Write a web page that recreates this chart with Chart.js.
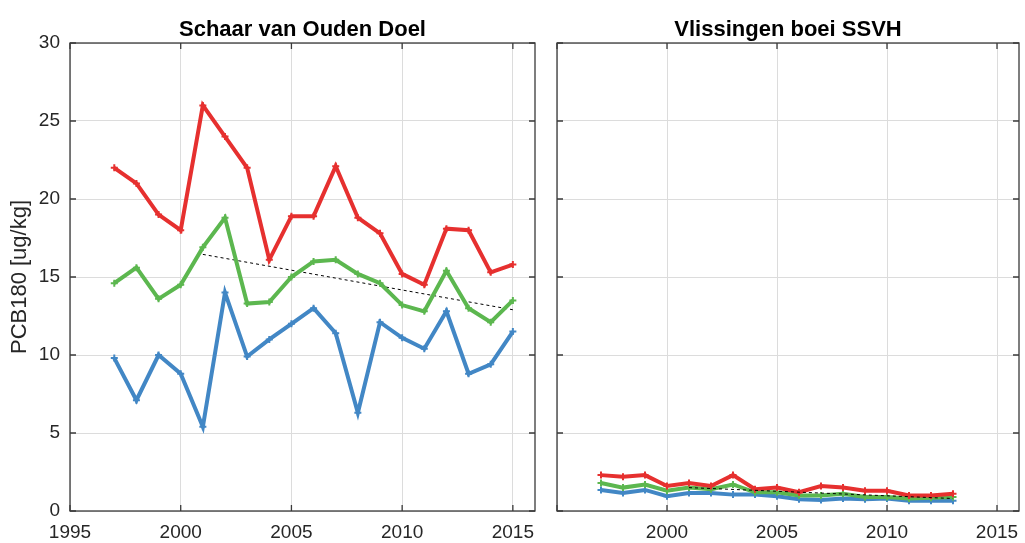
<!DOCTYPE html>
<html>
<head>
<meta charset="utf-8">
<script src="https://cdn.jsdelivr.net/npm/chart.js@4"></script>
<style>
  html, body { margin: 0; padding: 0; background: #fff; }
  #wrap { position: relative; width: 1025px; height: 543px; }
  #wrap canvas { position: absolute; top: 0; }
</style>
</head>
<body>
<div id="wrap">
  <canvas id="doel" width="545" height="543" style="left:0"></canvas>
  <canvas id="ssvh" width="480" height="543" style="left:545px"></canvas>
</div>
<script>
// PCB180 in sediment, two stations
const yearsDoel = [1997, 1998, 1999, 2000, 2001, 2002, 2003, 2004, 2005, 2006, 2007, 2008, 2009, 2010, 2011, 2012, 2013, 2014, 2015];
const doelHigh = [22, 21, 19, 18, 26, 24, 22, 16.1, 18.9, 18.9, 22.1, 18.8, 17.8, 15.2, 14.5, 18.1, 18.0, 15.3, 15.8];
const doelMid  = [14.6, 15.6, 13.6, 14.5, 16.9, 18.8, 13.3, 13.4, 15.0, 16.0, 16.1, 15.2, 14.6, 13.2, 12.8, 15.4, 13.0, 12.1, 13.5];
const doelLow  = [9.8, 7.1, 10.0, 8.8, 5.4, 14.0, 9.9, 11.0, 12.0, 13.0, 11.4, 6.3, 12.1, 11.1, 10.4, 12.8, 8.8, 9.4, 11.5];
const doelTrendYears = [2001, 2015];
const doelTrend = [16.45, 12.9];

const yearsSsvh = [1997, 1998, 1999, 2000, 2001, 2002, 2003, 2004, 2005, 2006, 2007, 2008, 2009, 2010, 2011, 2012, 2013];
const ssvhHigh = [2.3, 2.2, 2.3, 1.6, 1.8, 1.6, 2.3, 1.4, 1.5, 1.2, 1.6, 1.5, 1.3, 1.3, 1.0, 1.0, 1.1];
const ssvhMid  = [1.8, 1.5, 1.7, 1.3, 1.5, 1.4, 1.7, 1.2, 1.2, 1.0, 1.0, 1.1, 0.9, 0.9, 0.8, 0.85, 0.9];
const ssvhLow  = [1.35, 1.15, 1.35, 0.95, 1.15, 1.15, 1.05, 1.05, 0.95, 0.75, 0.7, 0.8, 0.75, 0.8, 0.65, 0.65, 0.65];
const ssvhTrendYears = [2001, 2013];
const ssvhTrend = [1.5, 0.8];

const xTicks = [1995, 2000, 2005, 2010, 2015];
const yTicks = [0, 5, 10, 15, 20, 25, 30];

const RED = '#e6302f', GREEN = '#5cb74f', BLUE = '#4287c5';
const FONT = '"Liberation Sans", Arial, Helvetica, sans-serif';

const pts = (xs, ys) => xs.map((x, i) => ({ x: x, y: ys[i] }));

function series(xs, ys, color) {
  return {
    data: pts(xs, ys),
    borderColor: color,
    backgroundColor: color,
    borderWidth: 4,
    pointStyle: 'cross',
    pointRadius: 3.5,
    pointBorderWidth: 2,
    pointBorderColor: color,
    tension: 0
  };
}

function trend(xs, ys) {
  return {
    data: pts(xs, ys),
    borderColor: '#000',
    borderWidth: 1,
    borderDash: [3, 3],
    pointRadius: 0,
    tension: 0
  };
}

// box, inward tick marks and panel title
const frame = {
  id: 'frame',
  afterDraw(chart, args, opts) {
    const { ctx, chartArea: a, scales: { x, y } } = chart;
    const len = 6;
    ctx.save();
    ctx.strokeStyle = '#3a3a3a';
    ctx.lineWidth = 1.3;
    ctx.beginPath();
    x.ticks.forEach(t => {
      const px = x.getPixelForValue(t.value);
      ctx.moveTo(px, a.bottom); ctx.lineTo(px, a.bottom - len);
      ctx.moveTo(px, a.top); ctx.lineTo(px, a.top + len);
    });
    y.ticks.forEach(t => {
      const py = y.getPixelForValue(t.value);
      ctx.moveTo(a.left, py); ctx.lineTo(a.left + len, py);
      ctx.moveTo(a.right, py); ctx.lineTo(a.right - len, py);
    });
    ctx.stroke();
    ctx.strokeRect(a.left, a.top, a.right - a.left, a.bottom - a.top);
    ctx.fillStyle = '#000';
    ctx.font = 'bold 22px ' + FONT;
    ctx.textAlign = 'center';
    ctx.textBaseline = 'alphabetic';
    ctx.fillText(opts.text, (a.left + a.right) / 2, 36);
    ctx.restore();
  }
};

function makeChart(id, datasets, title, showY, yWidth, padRight) {
  return new Chart(document.getElementById(id), {
    type: 'line',
    data: { datasets: datasets },
    plugins: [frame],
    options: {
      responsive: false,
      animation: false,
      layout: { padding: { top: 43, right: padRight, bottom: 0, left: 0 } },
      plugins: {
        legend: { display: false },
        tooltip: { enabled: false },
        frame: { text: title }
      },
      scales: {
        x: {
          type: 'linear',
          min: 1995,
          max: 2016,
          afterBuildTicks: s => { s.ticks = xTicks.map(v => ({ value: v })); },
          afterFit: s => { s.height = 32; s.paddingLeft = 0; s.paddingRight = 0; },
          border: { display: false },
          grid: { color: '#dcdcdc', lineWidth: 1, drawTicks: false },
          ticks: {
            padding: 10,
            color: '#262626',
            font: { family: FONT, size: 19 },
            maxRotation: 0,
            autoSkip: false,
            callback: v => (showY || v !== 1995) ? String(v) : ''
          }
        },
        y: {
          min: 0,
          max: 30,
          afterBuildTicks: s => { s.ticks = yTicks.map(v => ({ value: v })); },
          afterFit: s => { s.width = yWidth; },
          border: { display: false },
          grid: { color: '#dcdcdc', lineWidth: 1, drawTicks: false },
          ticks: {
            display: showY,
            padding: 10,
            color: '#262626',
            font: { family: FONT, size: 19 }
          },
          title: {
            display: showY,
            text: 'PCB180 [ug/kg]',
            color: '#262626',
            font: { family: FONT, size: 22 },
            padding: { top: 7, bottom: 0 }
          }
        }
      }
    }
  });
}

makeChart('doel', [
  series(yearsDoel, doelHigh, RED),
  series(yearsDoel, doelMid, GREEN),
  series(yearsDoel, doelLow, BLUE),
  trend(doelTrendYears, doelTrend)
], 'Schaar van Ouden Doel', true, 70, 10);

makeChart('ssvh', [
  trend(ssvhTrendYears, ssvhTrend),
  series(yearsSsvh, ssvhHigh, RED),
  series(yearsSsvh, ssvhMid, GREEN),
  series(yearsSsvh, ssvhLow, BLUE)
], 'Vlissingen boei SSVH', false, 12, 0);
</script>
</body>
</html>
